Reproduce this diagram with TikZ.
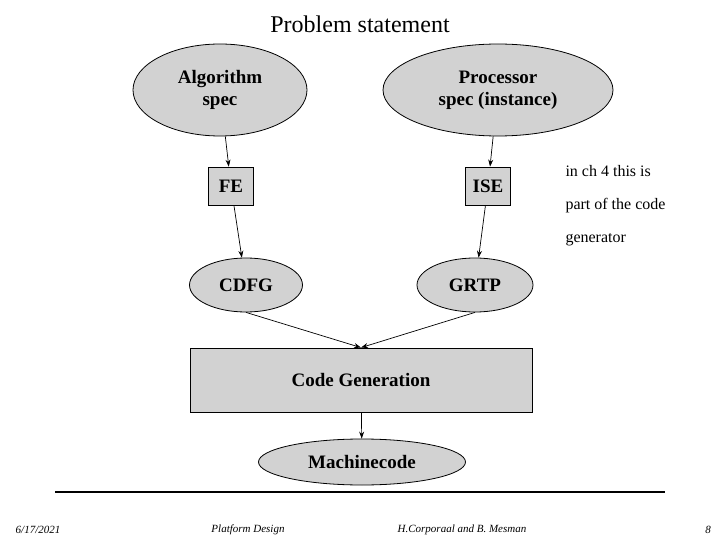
\documentclass[tikz,border=0pt]{standalone}
\usepackage{fontspec}
\setmainfont{Liberation Serif}
\usetikzlibrary{shapes.geometric,arrows.meta}
\begin{document}
\begin{tikzpicture}[x=1pt,y=-1pt,
  el/.style={ellipse,draw,fill=gray!35,line width=0.8pt,inner sep=0pt,font=\bfseries\fontsize{19}{22}\selectfont,align=center},
  bx/.style={rectangle,draw,fill=gray!35,line width=0.8pt,font=\bfseries\fontsize{19}{22}\selectfont,align=center},
  ar/.style={-{Stealth[length=7pt,width=5pt]},line width=0.7pt},
  ft/.style={font=\itshape\fontsize{11}{13}\selectfont}]
\useasboundingbox (0,0) rectangle (720,540);
\node (title) at (360,24) {\fontsize{24}{28}\selectfont Problem statement};
\node[el,minimum width=174,minimum height=92] (alg) at (220,90) {Algorithm\\spec};
\node[el,minimum width=230,minimum height=92] (proc) at (498,90) {Processor\\spec (instance)};
\node[bx,minimum width=45,minimum height=38] (fe) at (231,186) {FE};
\node[bx,minimum width=45,minimum height=38] (ise) at (488,186) {ISE};
\node[el,minimum width=113,minimum height=54] (cdfg) at (246,285) {CDFG};
\node[el,minimum width=116,minimum height=54] (grtp) at (475,285) {GRTP};
\node[bx,minimum width=342,minimum height=64] (cg) at (361,380) {Code Generation};
\node[el,minimum width=207,minimum height=46] (mc) at (362,462) {Machinecode};
\node[anchor=west,align=left,font=\fontsize{16}{33}\selectfont] (note) at (562,206) {in ch 4 this is\\part of the code\\generator};
\draw[ar] (alg) -- (fe);
\draw[ar] (proc) -- (ise);
\draw[ar] (fe) -- (cdfg);
\draw[ar] (ise) -- (grtp);
\draw[ar] (cdfg.south) -- (cg.north);
\draw[ar] (grtp.south) -- (cg.north);
\draw[ar] (cg) -- (mc);
\coordinate (l1) at (55,492); \coordinate (l2) at (665,492);
\draw[line width=1.5pt] (l1) -- (l2);
\node[ft] (d) at (38,530) {6/17/2021};
\node[ft] (p) at (248,530) {Platform Design};
\node[ft] (a) at (462,530) {H.Corporaal and B. Mesman};
\node[ft] (n) at (708,530) {8};
\end{tikzpicture}
\end{document}
